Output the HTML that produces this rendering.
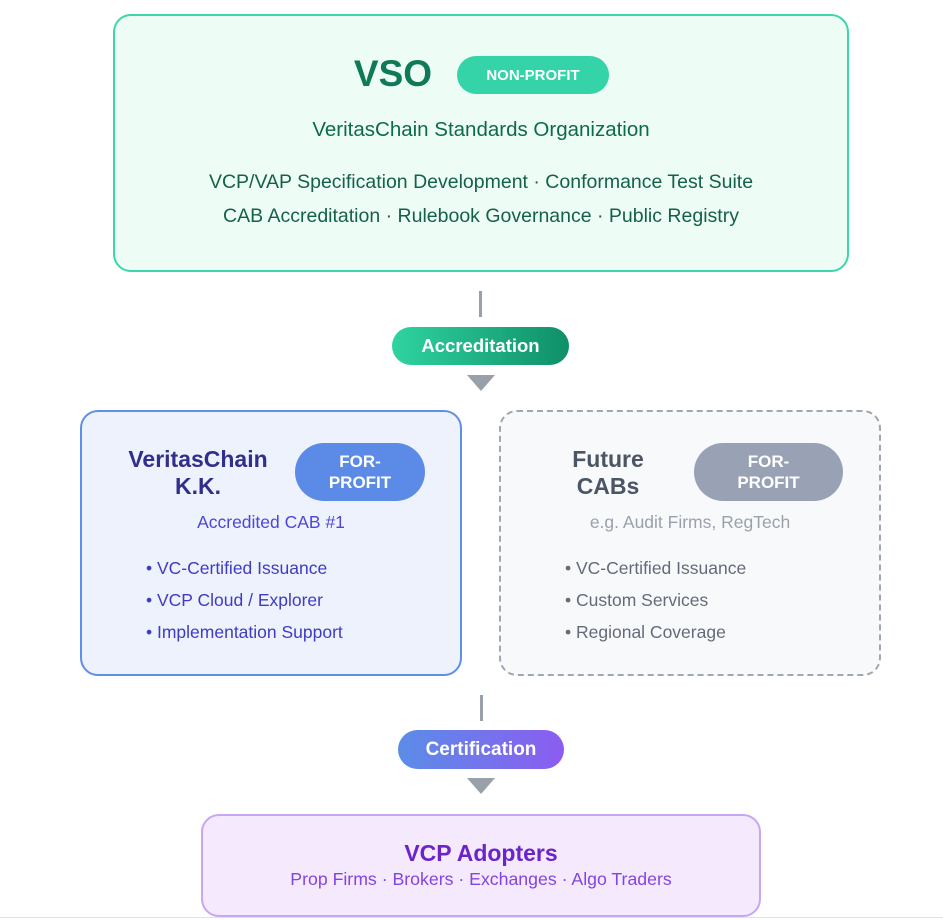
<!DOCTYPE html>
<html><head><meta charset="utf-8"><style>
*{margin:0;padding:0;box-sizing:border-box}
body{width:943px;height:920px;background:#fff;font-family:"Liberation Sans",sans-serif;position:relative;overflow:hidden}
.a{position:absolute}
.c{text-align:center;white-space:nowrap}
.pill{position:absolute;display:flex;align-items:center;justify-content:center;color:#fff;font-weight:bold;text-align:center;border-radius:40px}
.tri{position:absolute;width:0;height:0;border-left:14px solid transparent;border-right:14px solid transparent;border-top:16px solid #9aa0aa}
.vl{position:absolute;width:3px;background:#9aa0aa}
</style></head><body>
<div class="a" style="left:113px;top:14px;width:736px;height:258px;border:2.5px solid #3dd6ab;border-radius:18px;background:#eefcf6"></div>
<div class="a c" style="left:300px;top:53px;width:186px;font-size:37px;font-weight:bold;color:#0f7a57">VSO</div>
<div class="pill" style="left:457px;top:56px;width:152px;height:38px;background:#34d3a8;font-size:15px">NON-PROFIT</div>
<div class="a c" style="left:113px;top:118px;width:736px;font-size:20.5px;color:#0d6a4c">VeritasChain Standards Organization</div>
<div class="a c" style="left:113px;top:171px;width:736px;font-size:19.5px;color:#14614a">VCP/VAP Specification Development · Conformance Test Suite</div>
<div class="a c" style="left:113px;top:205px;width:736px;font-size:19.5px;color:#14614a">CAB Accreditation · Rulebook Governance · Public Registry</div>

<div class="vl" style="left:479px;top:291px;height:26px"></div>
<div class="pill" style="left:392px;top:327px;width:177px;height:38px;background:linear-gradient(90deg,#2fd3a0,#0f8f68);font-size:18.5px">Accreditation</div>
<div class="tri" style="left:467px;top:375px"></div>

<div class="a" style="left:80px;top:410px;width:382px;height:266px;border:2.5px solid #5f8fe8;border-radius:18px;background:#eef2fd"></div>
<div class="a c" style="left:108px;top:446px;width:180px;font-size:23px;line-height:27px;font-weight:bold;color:#322e8c">VeritasChain<br>K.K.</div>
<div class="pill" style="left:295px;top:443px;width:130px;height:58px;background:#5b8be6;font-size:17px;line-height:21px">FOR-<br>PROFIT</div>
<div class="a c" style="left:80px;top:512px;width:382px;font-size:17.5px;color:#4f46d6">Accredited CAB #1</div>
<div class="a" style="left:146px;top:552px;font-size:17.5px;line-height:32px;color:#3f3bc4">• VC-Certified Issuance<br>• VCP Cloud / Explorer<br>• Implementation Support</div>

<div class="a" style="left:499px;top:410px;width:382px;height:266px;border:2.5px dashed #a0a6b2;border-radius:18px;background:#f8f9fb"></div>
<div class="a c" style="left:528px;top:446px;width:160px;font-size:23px;line-height:27px;font-weight:bold;color:#4b5563">Future<br>CABs</div>
<div class="pill" style="left:694px;top:443px;width:149px;height:58px;background:#98a2b4;font-size:17px;line-height:21px">FOR-<br>PROFIT</div>
<div class="a c" style="left:499px;top:512px;width:382px;font-size:17.5px;color:#9aa1ad">e.g. Audit Firms, RegTech</div>
<div class="a" style="left:565px;top:552px;font-size:17.5px;line-height:32px;color:#646b78">• VC-Certified Issuance<br>• Custom Services<br>• Regional Coverage</div>

<div class="vl" style="left:480px;top:695px;height:26px"></div>
<div class="pill" style="left:398px;top:730px;width:166px;height:39px;background:linear-gradient(90deg,#5b8de8,#8b5cf0);font-size:19px">Certification</div>
<div class="tri" style="left:467px;top:778px"></div>

<div class="a" style="left:201px;top:814px;width:560px;height:103px;border:2.5px solid #c6a6f5;border-radius:18px;background:#f5e9fd"></div>
<div class="a c" style="left:201px;top:840px;width:560px;font-size:23px;font-weight:bold;color:#6a24c9">VCP Adopters</div>
<div class="a c" style="left:201px;top:869px;width:560px;font-size:17.7px;color:#8345e0">Prop Firms · Brokers · Exchanges · Algo Traders</div>
<div class="a" style="left:0;top:917px;width:943px;height:1px;background:#e3e3e6"></div>
</body></html>
